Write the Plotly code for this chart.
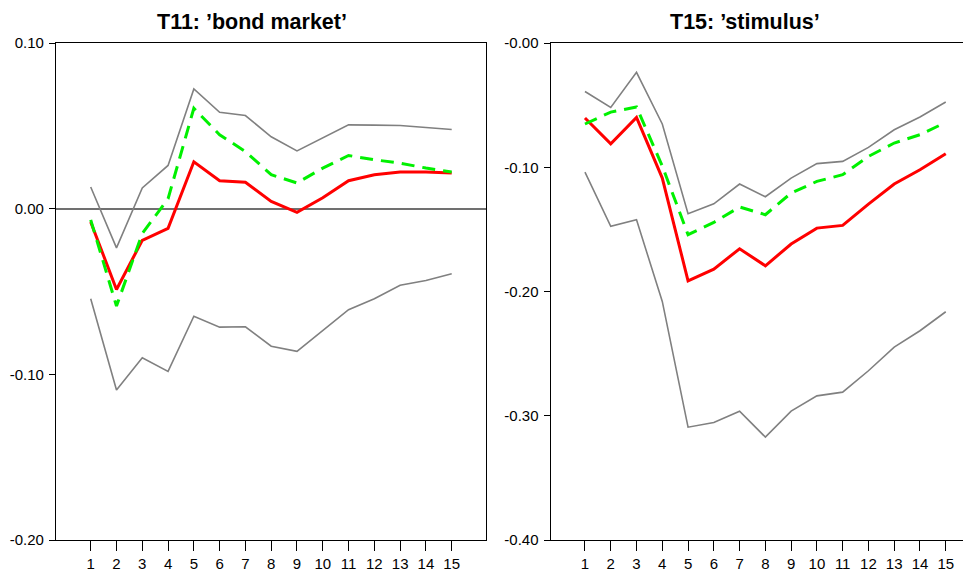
import plotly.graph_objects as go
from plotly.subplots import make_subplots

steps = list(range(1, 16))

# T11: 'bond market'
bond_upper = [0.0131, -0.0237, 0.0125, 0.0261, 0.0723, 0.0582, 0.0562, 0.0434,
              0.0349, 0.0426, 0.0506, 0.0504, 0.0502, 0.0490, 0.0478]
bond_lower = [-0.0544, -0.1094, -0.0900, -0.0982, -0.0649, -0.0715, -0.0713, -0.0830,
              -0.0861, -0.0733, -0.0610, -0.0544, -0.0462, -0.0434, -0.0393]
bond_red = [-0.0080, -0.0488, -0.0191, -0.0119, 0.0283, 0.0169, 0.0159, 0.0044,
            -0.0022, 0.0066, 0.0169, 0.0205, 0.0221, 0.0221, 0.0215]
bond_green = [-0.0068, -0.0588, -0.0150, 0.0060, 0.0606, 0.0446, 0.0345, 0.0205,
              0.0155, 0.0245, 0.0321, 0.0295, 0.0275, 0.0245, 0.0221]

# T15: 'stimulus'
stim_upper = [-0.0390, -0.0518, -0.0236, -0.0652, -0.1374, -0.1294, -0.1135, -0.1237,
              -0.1087, -0.0971, -0.0953, -0.0840, -0.0698, -0.0596, -0.0475]
stim_lower = [-0.1039, -0.1476, -0.1423, -0.2080, -0.3092, -0.3055, -0.2963, -0.3172,
              -0.2963, -0.2840, -0.2810, -0.2638, -0.2448, -0.2316, -0.2163]
stim_red = [-0.0604, -0.0811, -0.0599, -0.1087, -0.1914, -0.1820, -0.1656, -0.1793,
            -0.1618, -0.1490, -0.1468, -0.1297, -0.1135, -0.1020, -0.0891]
stim_green = [-0.0652, -0.0556, -0.0515, -0.0990, -0.1543, -0.1444, -0.1320, -0.1382,
              -0.1208, -0.1114, -0.1060, -0.0913, -0.0805, -0.0738, -0.0639]

left_ticks = [0.10, 0.00, -0.10, -0.20]
left_labels = ["0.10", "0.00", "-0.10", "-0.20"]
right_ticks = [0.00, -0.10, -0.20, -0.30, -0.40]
right_labels = ["-0.00", "-0.10", "-0.20", "-0.30", "-0.40"]

# page body adds an 8px margin, so the figure is sized to fit what is left
W, H = 963, 568
fig = make_subplots(rows=1, cols=2)

panels = [(bond_upper, bond_lower, bond_red, bond_green, 1),
          (stim_upper, stim_lower, stim_red, stim_green, 2)]
for up, lo, red, green, c in panels:
    fig.add_trace(go.Scatter(x=steps, y=up, mode="lines",
                             line=dict(color="#808080", width=1.6)), row=1, col=c)
    fig.add_trace(go.Scatter(x=steps, y=lo, mode="lines",
                             line=dict(color="#808080", width=1.6)), row=1, col=c)
    fig.add_trace(go.Scatter(x=steps, y=red, mode="lines",
                             line=dict(color="#ff0000", width=3)), row=1, col=c)
    fig.add_trace(go.Scatter(x=steps, y=green, mode="lines",
                             line=dict(color="#00f000", width=3, dash="13px,8px")), row=1, col=c)

tickfont = dict(family="Liberation Sans, Arial, sans-serif", size=15, color="black")
ydom = [36 / H, 533 / H]

fig.update_xaxes(tickvals=steps, ticks="outside", ticklen=10, tickwidth=1.3,
                 tickcolor="black", showline=True, linecolor="black", linewidth=1.3,
                 mirror=True, showgrid=False, zeroline=False, tickfont=tickfont,
                 automargin=False)
fig.update_yaxes(ticks="outside", ticklen=6, tickwidth=1.3, tickcolor="black",
                 showline=True, linecolor="black", linewidth=1.3,
                 showgrid=False, tickfont=tickfont, ticklabelstandoff=2,
                 automargin=False)

fig.update_layout(
    xaxis=dict(domain=[48 / W, 478 / W], range=[-0.346, 16.33]),
    xaxis2=dict(domain=[542.7 / W, 1.0], range=[-0.33, 15.98]),
    yaxis=dict(domain=ydom, range=[-0.20, 0.10], tickvals=left_ticks,
               ticktext=left_labels, mirror=True, zeroline=True,
               zerolinecolor="#707070", zerolinewidth=1.5),
    yaxis2=dict(domain=ydom, range=[-0.40, 0.00], tickvals=right_ticks,
                ticktext=right_labels, mirror=False, zeroline=False),
    width=W, height=H, margin=dict(l=0, r=0, t=0, b=0),
    paper_bgcolor="white", plot_bgcolor="white", showlegend=False,
)

titlefont = dict(family="Liberation Sans, Arial, sans-serif", size=21.5, color="black")
for txt, xpx in [("T11: \u2019bond market\u2019", 244), ("T15: \u2019stimulus\u2019", 737)]:
    fig.add_annotation(text="<b>" + txt + "</b>", x=xpx / W, y=1.0,
                       xref="paper", yref="paper", xanchor="center", yanchor="top",
                       showarrow=False, font=titlefont)

fig.write_html("out.html")
